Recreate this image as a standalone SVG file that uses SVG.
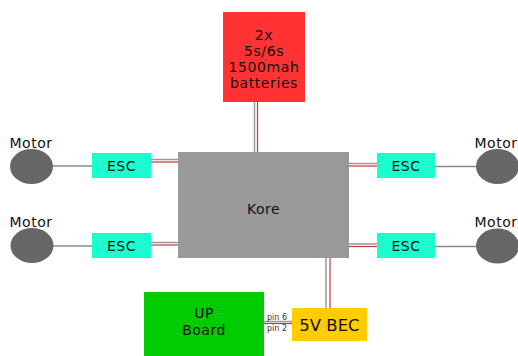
<svg xmlns="http://www.w3.org/2000/svg" width="518" height="356" viewBox="0 0 518 356">
<style>
text{font-family:"DejaVu Sans",Verdana,sans-serif;fill:#111;text-anchor:middle}
.esc{fill:#1affd0}
.motor{fill:#666}
.g{stroke:#999;stroke-width:1.5;fill:none}
.r{stroke:#c83737;stroke-width:1.2;fill:none}
.m{stroke:#888;stroke-width:1.3;fill:none}
.t13{font-size:14px;letter-spacing:0.5px}
.t14{font-size:14px;letter-spacing:0.6px}
</style>
<rect width="518" height="356" fill="#fff"/>
<g id="connectors">
  <line class="g" x1="254.5" y1="102" x2="254.5" y2="152"/>
  <line class="r" x1="257.5" y1="102" x2="257.5" y2="152"/>
  <line class="g" x1="151" y1="159.5" x2="178" y2="159.5"/>
  <line class="r" x1="151" y1="162" x2="178" y2="162"/>
  <line class="g" x1="151" y1="242.5" x2="178" y2="242.5"/>
  <line class="r" x1="151" y1="245" x2="178" y2="245"/>
  <line class="g" x1="349" y1="163.5" x2="377" y2="163.5"/>
  <line class="r" x1="349" y1="166" x2="377" y2="166"/>
  <line class="g" x1="349" y1="244" x2="377" y2="244"/>
  <line class="r" x1="349" y1="246.5" x2="377" y2="246.5"/>
  <line class="m" x1="53" y1="166" x2="92" y2="166"/>
  <line class="m" x1="53" y1="246" x2="92" y2="246"/>
  <line class="m" x1="435" y1="166.5" x2="476" y2="166.5"/>
  <line class="m" x1="435" y1="246.5" x2="476" y2="246.5"/>
  <line class="g" x1="326" y1="258" x2="326" y2="308"/>
  <line class="r" x1="330" y1="258" x2="330" y2="308"/>
  <line class="g" x1="264" y1="321.5" x2="292" y2="321.5"/>
  <line class="r" x1="264" y1="323.5" x2="292" y2="323.5"/>
  <text x="277" y="320" style="font-size:8px;fill:#333">pin 6</text>
  <text x="277" y="331" style="font-size:8px;fill:#333">pin 2</text>
</g>
<g id="batteries">
  <rect x="223" y="12" width="82" height="90" fill="#ff3333"/>
  <text class="t14" x="264" y="40">2x</text>
  <text class="t14" x="264" y="56">5s/6s</text>
  <text class="t14" x="264" y="72">1500mah</text>
  <text class="t14" x="264" y="88">batteries</text>
</g>
<g id="kore">
  <rect x="178" y="152" width="171" height="106" fill="#999"/>
  <text class="t13" x="263.5" y="214">Kore</text>
</g>
<g id="esc-tl"><rect class="esc" x="92" y="153" width="59" height="25"/><text class="t13" x="121.5" y="171">ESC</text></g>
<g id="esc-bl"><rect class="esc" x="92" y="233" width="59" height="25"/><text class="t13" x="121.5" y="251">ESC</text></g>
<g id="esc-tr"><rect class="esc" x="377" y="153" width="58" height="25"/><text class="t13" x="406" y="171">ESC</text></g>
<g id="esc-br"><rect class="esc" x="377" y="233" width="58" height="25"/><text class="t13" x="406" y="251">ESC</text></g>
<g id="motor-tl"><ellipse class="motor" cx="31.5" cy="166.5" rx="21.5" ry="17.5"/><text class="t13" x="31" y="148">Motor</text></g>
<g id="motor-bl"><ellipse class="motor" cx="32" cy="245.5" rx="21.5" ry="17.5"/><text class="t13" x="31" y="227">Motor</text></g>
<g id="motor-tr"><ellipse class="motor" cx="497.5" cy="166.5" rx="21.5" ry="17.5"/><text class="t13" x="496" y="148">Motor</text></g>
<g id="motor-br"><ellipse class="motor" cx="497.5" cy="246" rx="21.5" ry="17.5"/><text class="t13" x="496" y="227">Motor</text></g>
<g id="up-board">
  <rect x="144" y="292" width="120" height="66" fill="#00cc00"/>
  <text class="t13" x="204" y="318">UP</text>
  <text class="t13" x="204" y="335">Board</text>
</g>
<g id="bec">
  <rect x="292" y="308" width="75" height="33" fill="#ffcc00"/>
  <text x="329.5" y="331" style="font-size:16.5px">5V BEC</text>
</g>
</svg>
